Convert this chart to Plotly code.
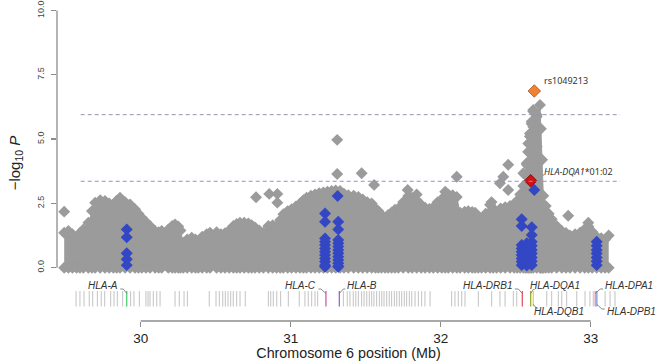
import plotly.graph_objects as go

# ---------------- data ----------------
# upper envelope of the dense grey SNP cloud (position in Mb, -log10 P)
env_pos = [29.490, 29.518, 29.545, 29.573, 29.595, 29.618, 29.651, 29.675, 29.696, 29.730,
           29.762, 29.790, 29.818, 29.840, 29.862, 29.896, 29.929, 29.962, 29.985, 30.007,
           30.035, 30.062, 30.096, 30.120, 30.140, 30.184, 30.210, 30.229, 30.250, 30.265,
           30.284, 30.310, 30.340, 30.365, 30.384, 30.410, 30.440, 30.462, 30.506, 30.535,
           30.562, 30.590, 30.618, 30.640, 30.662, 30.690, 30.718, 30.740, 30.762, 30.790,
           30.818, 30.851, 30.880, 30.906, 30.930, 30.951, 30.980, 31.006, 31.035, 31.062,
           31.085, 31.106, 31.135, 31.162, 31.190, 31.218, 31.245, 31.273, 31.300, 31.329,
           31.355, 31.384, 31.420, 31.451, 31.480, 31.510, 31.540, 31.565, 31.584, 31.605,
           31.629, 31.650, 31.673, 31.695, 31.718, 31.750, 31.784, 31.810, 31.840, 31.870,
           31.896, 31.925, 31.951, 31.980, 32.007, 32.030, 32.051, 32.080, 32.107, 32.129,
           32.160, 32.184, 32.210, 32.229, 32.250, 32.273, 32.300, 32.329, 32.350, 32.373,
           32.400, 32.430, 32.462, 32.490, 32.510, 32.530, 32.551, 32.565, 32.575, 32.585,
           32.595, 32.606, 32.617, 32.640, 32.662, 32.668, 32.676, 32.684, 32.700, 32.720,
           32.740, 32.773, 32.807, 32.835, 32.862, 32.896, 32.929, 32.960, 32.984, 33.010,
           33.040, 33.070, 33.096, 33.120]
env_logp = [1.36, 1.43, 1.30, 1.17, 1.35, 1.49, 1.75, 2.20, 2.53, 2.62,
            2.59, 2.50, 2.46, 2.60, 2.72, 2.55, 2.46, 2.27, 2.10, 1.94,
            1.78, 1.62, 1.43, 1.38, 1.43, 1.49, 1.62, 1.68, 1.60, 1.45,
            0.97, 1.10, 1.17, 1.10, 1.04, 1.20, 1.30, 1.36, 1.38, 1.30,
            1.34, 1.45, 1.62, 1.70, 1.75, 1.75, 1.72, 1.65, 1.56, 1.45,
            1.36, 1.62, 1.65, 1.62, 1.85, 2.08, 2.20, 2.27, 2.38, 2.50,
            2.62, 2.72, 2.80, 2.85, 2.90, 2.92, 2.95, 2.98, 3.00, 2.98,
            2.88, 2.82, 2.80, 2.75, 2.65, 2.55, 2.50, 2.30, 2.20, 2.05,
            1.95, 2.05, 2.15, 2.25, 2.30, 2.55, 2.79, 2.72, 2.62, 2.45,
            2.33, 2.28, 2.35, 2.55, 2.66, 2.78, 2.85, 2.82, 2.75, 2.14,
            2.18, 2.20, 2.17, 2.14, 2.00, 1.82, 2.10, 2.45, 2.30, 2.14,
            2.30, 2.35, 2.40, 2.48, 2.60, 2.85, 3.18, 3.60, 4.00, 4.50,
            5.10, 5.60, 6.13, 5.95, 6.33, 5.40, 4.20, 2.80, 2.40, 2.10,
            1.88, 1.62, 1.43, 1.35, 1.25, 1.30, 1.36, 1.50, 1.60, 1.40,
            1.20, 1.15, 1.10, 1.25]
# SNPs at -log10 P ~ 0 along the whole region (bottom row of the cloud)
floor_logp = [0.0] * len(env_pos)

# isolated grey SNPs above the cloud
out_pos = [29.490, 30.769, 30.857, 30.911, 30.911, 31.310, 31.310, 31.473, 31.556, 31.780,
           31.840, 32.030, 32.107, 32.339, 32.395, 32.417, 32.450, 32.450, 32.850, 32.984,
           32.617, 32.640, 32.606, 32.617, 32.595, 32.628, 32.584, 32.640, 32.584, 32.617,
           32.573, 32.628, 32.551, 32.650, 32.640]
out_logp = [2.18, 2.74, 2.87, 2.87, 2.53, 4.97, 3.64, 3.67, 3.22, 3.02,
            2.85, 2.95, 3.54, 2.55, 3.28, 3.54, 4.00, 3.02, 2.02, 1.75,
            6.07, 5.87, 5.68, 5.48, 5.22, 5.09, 4.83, 4.70, 4.51, 4.31,
            4.06, 3.93, 3.67, 3.60, 3.30]

# classical HLA alleles (blue)
hla_pos = ([29.907] * 5 +
           [31.229] * 12 +
           [31.313] + [31.317] * 12 +
           [32.540] * 9 + [32.574] * 4 + [32.607] * 9 +
           [32.624] +
           [33.040] * 7)
hla_logp = ([1.49, 1.18, 0.56, 0.33, 0.10] +
            [2.11, 1.79, 1.14, 1.01, 0.88, 0.75, 0.62, 0.49, 0.36, 0.23, 0.10, 0.04] +
            [2.79] + [1.79, 1.49, 1.08, 0.95, 0.82, 0.69, 0.56, 0.43, 0.30, 0.17, 0.06, 0.04] +
            [1.88, 1.62, 0.88, 0.75, 0.62, 0.49, 0.36, 0.23, 0.10] + [0.95, 0.60, 0.30, 0.08] +
            [1.57, 1.27, 1.01, 0.85, 0.69, 0.55, 0.40, 0.25, 0.10] +
            [3.02] +
            [1.01, 0.85, 0.69, 0.55, 0.40, 0.25, 0.10])

top_snp = {"name": "rs1049213", "pos": 32.624, "logp": 6.87}
top_allele = {"name": "HLA-DQA1*01:02", "pos": 32.600, "logp": 3.38}

thresholds = [5.95, 3.36]

# gene track
gene_ticks = [29.569, 29.595, 29.622, 29.657, 29.680, 29.711, 29.737, 29.760, 29.800, 29.822,
              29.844, 29.880, 29.933, 29.955, 29.991, 30.035, 30.049, 30.062, 30.084, 30.107,
              30.129, 30.229, 30.257, 30.289, 30.311, 30.457, 30.502, 30.524, 30.547, 30.564,
              30.582, 30.600, 30.617, 30.640, 30.662, 30.697, 30.851, 30.867, 30.884, 30.907,
              30.933, 30.984, 31.057, 31.095, 31.117, 31.140, 31.162, 31.180, 31.351, 31.377,
              31.395, 31.417, 31.434, 31.451, 31.473, 31.489, 31.507, 31.524, 31.540, 31.555,
              31.573, 31.591, 31.607, 31.622, 31.640, 31.657, 31.673, 31.691, 31.707, 31.724,
              31.740, 31.757, 31.773, 31.791, 31.807, 31.829, 31.851, 31.873, 31.895, 31.929,
              32.073, 32.095, 32.117, 32.140, 32.162, 32.251, 32.340, 32.395, 32.429, 32.484,
              32.507, 32.707, 32.740, 32.784, 32.807, 32.840, 32.907, 32.962, 32.995, 33.017,
              33.096, 33.129, 33.162]
gene_names = ["HLA-A", "HLA-C", "HLA-B", "HLA-DRB1", "HLA-DQA1", "HLA-DQB1", "HLA-DPA1", "HLA-DPB1"]
gene_pos = [29.907, 31.235, 31.324, 32.544, 32.600, 32.617, 33.030, 33.041]

x_ticks = [30, 31, 32, 33]
y_ticks = [0, 2.5, 5, 7.5, 10]
y_ticktext = ["0.0", "2.5", "5.0", "7.5", "10.0"]

# ---------------- style ----------------
GREY = "#9b9b9b"
BLUE = "#3347c4"
AXIS = "#8c8c8c"
MS = 9.2
gene_colors = ["#3dcc6a", "#d04aa8", "#a050d0", "#e04a5a", "#8aa838", "#e6cf3a", "#e87a98", "#6f8fe0"]
label_row = ["up", "up", "up", "up", "up", "down", "up", "down"]
label_shift = [-7, -8, 6, -8, -3, -1, 8, 8]
label_anchor = ["right", "right", "left", "right", "left", "left", "left", "left"]
conn_px = [[(0, 293.5), (-3.5, 289), (-6.5, 289)],
           [(0, 293.5), (-5, 289), (-7.5, 289)],
           [(0, 293.5), (4, 289), (6, 289)],
           [(0, 293.5), (-4, 289), (-7.5, 289)],
           [(0, 293.5), (2.5, 289.5), (4, 289.5)],
           [(0, 304.3), (3, 308), (5, 308)],
           [(0, 293.5), (5, 289), (8, 289)],
           [(0, 304.3), (5, 309), (8, 309)]]

PX_PER_MB = 150.0
Y0_PX, PX_PER_UNIT = 267.7, 25.72


def py2y(py):
    return (Y0_PX - py) / PX_PER_UNIT


track_y = py2y(298.8)
row_y = {"up": py2y(285.5), "down": py2y(311.7)}

fig = go.Figure()

fig.add_trace(go.Scatter(x=env_pos, y=env_logp, mode="lines", fill="tozeroy",
                         fillcolor=GREY, line=dict(color=GREY, width=1), hoverinfo="skip"))
fig.add_trace(go.Scatter(x=env_pos + env_pos + out_pos, y=env_logp + floor_logp + out_logp,
                         mode="markers",
                         marker=dict(symbol="diamond", size=MS, color=GREY, line=dict(width=0))))
fig.add_trace(go.Scatter(x=hla_pos, y=hla_logp, mode="markers",
                         marker=dict(symbol="diamond", size=MS, color=BLUE, line=dict(width=0))))
fig.add_trace(go.Scatter(x=[top_allele["pos"]], y=[top_allele["logp"]], mode="markers",
                         marker=dict(symbol="diamond", size=MS + 0.4, color="#d90f0f",
                                     line=dict(width=0.8, color="#6a0000"))))
fig.add_trace(go.Scatter(x=[top_snp["pos"]], y=[top_snp["logp"]], mode="markers",
                         marker=dict(symbol="diamond", size=MS + 0.4, color="#f08232",
                                     line=dict(width=0.8, color="#a0501a"))))

fig.add_trace(go.Scatter(x=gene_ticks, y=[track_y] * len(gene_ticks), mode="markers",
                         marker=dict(symbol="line-ns", size=11, line=dict(width=1, color="#c2c2c2"))))
fig.add_trace(go.Scatter(x=gene_pos, y=[track_y] * len(gene_pos), mode="markers",
                         marker=dict(symbol="line-ns", size=11, line=dict(width=1.2, color=gene_colors))))
for g, pos in enumerate(gene_pos):
    cx = [pos + dx / PX_PER_MB for dx, _ in conn_px[g]]
    cy = [py2y(p) for _, p in conn_px[g]]
    fig.add_trace(go.Scatter(x=cx, y=cy, mode="lines", line=dict(color="#707070", width=0.8),
                             hoverinfo="skip"))
    fig.add_annotation(x=pos, y=row_y[label_row[g]], xref="x", yref="y", xshift=label_shift[g],
                       text="<i>%s</i>" % gene_names[g], showarrow=False, xanchor=label_anchor[g],
                       yanchor="middle", font=dict(family="Liberation Sans, Arial", size=10, color="#333333"))

thr_colors = ["#9a94ab", "#8e8ed8"]
for t, c in zip(thresholds, thr_colors):
    fig.add_shape(type="line", xref="x", yref="y", x0=29.60, x1=33.195, y0=t, y1=t,
                  line=dict(color=c, width=1, dash="4px,3px"))

fig.add_shape(type="line", xref="paper", yref="y", x0=0, x1=0, y0=y_ticks[0], y1=y_ticks[-1],
              line=dict(color=AXIS, width=1.3))
fig.add_shape(type="line", xref="x", yref="paper", x0=x_ticks[0], x1=x_ticks[-1], y0=0, y1=0,
              line=dict(color=AXIS, width=1.3))

fig.add_annotation(x=top_snp["pos"], y=py2y(80), xref="x", yref="y", xshift=7.5,
                   text=top_snp["name"], showarrow=False, xanchor="left", yanchor="middle",
                   font=dict(family="Noto Sans", size=9, color="#333333"))
fig.add_annotation(x=top_allele["pos"], y=py2y(171), xref="x", yref="y", xshift=11,
                   text="<i>HLA-DQA1</i>*01:02", showarrow=False, xanchor="left", yanchor="middle",
                   font=dict(family="Noto Sans", size=9, color="#333333"))

fig.update_layout(
    width=660, height=361, margin=dict(l=57, r=20, t=5, b=40, autoexpand=False),
    paper_bgcolor="white", plot_bgcolor="white", showlegend=False,
    font=dict(family="Liberation Sans, Arial", color="#222222"),
    xaxis=dict(range=[30 + (57 - 140.7) / PX_PER_MB, 30 + (640 - 140.7) / PX_PER_MB],
               automargin=False,
               tickvals=x_ticks, ticks="outside", ticklen=5, tickcolor=AXIS, tickwidth=1.3,
               showgrid=False, zeroline=False, showline=False,
               tickfont=dict(size=13.5, color="#222222"),
               title=dict(text="Chromosome 6 position (Mb)", font=dict(size=14.3, color="#222222"),
                          standoff=1)),
    yaxis=dict(range=[py2y(321), py2y(5)], tickvals=y_ticks, ticktext=y_ticktext,
               automargin=False,
               ticks="outside", ticklen=5, tickcolor=AXIS, tickwidth=1.3, tickangle=-90,
               showgrid=False, zeroline=False, showline=False,
               tickfont=dict(size=9, color="#444444"), ticklabelstandoff=3,
               title=dict(text="\u2212log<sub>10</sub> <i>P</i>", font=dict(size=15, color="#222222"),
                          standoff=12)),
)

fig.write_html("out.html", config={"displayModeBar": False, "staticPlot": True},
               post_script="document.body.style.margin='0';document.body.style.overflow='hidden';")
